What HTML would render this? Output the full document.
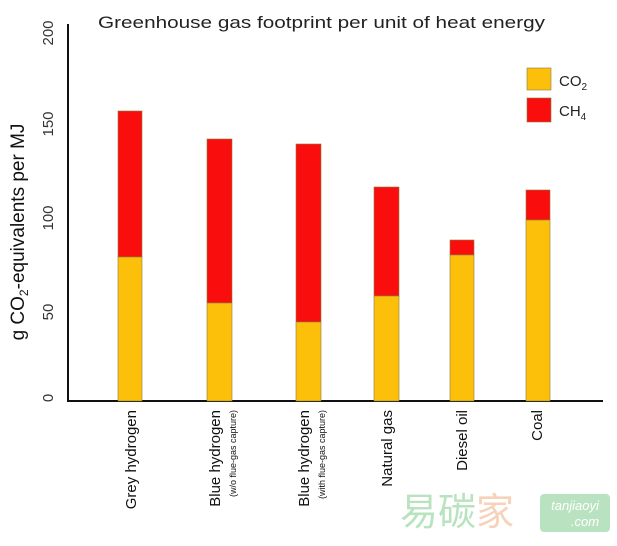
<!DOCTYPE html>
<html><head><style>body{margin:0;background:#fff}</style></head><body>
<svg width="617" height="541" viewBox="0 0 617 541" xmlns="http://www.w3.org/2000/svg" font-family="Liberation Sans, sans-serif">
<rect width="617" height="541" fill="#fff"/>
<text x="98" y="28" font-size="17" fill="#222" textLength="447" lengthAdjust="spacingAndGlyphs">Greenhouse gas footprint per unit of heat energy</text>
<line x1="68" y1="24" x2="68" y2="401" stroke="#111" stroke-width="2"/>
<line x1="67" y1="401" x2="603" y2="401" stroke="#111" stroke-width="2"/>
<g font-size="15" fill="#333" text-anchor="middle">
<text transform="translate(53,33) rotate(-90)">200</text>
<text transform="translate(53,124) rotate(-90)">150</text>
<text transform="translate(53,218) rotate(-90)">100</text>
<text transform="translate(53,312) rotate(-90)">50</text>
<text transform="translate(53,398) rotate(-90)">0</text>
</g>
<text transform="translate(24,232) rotate(-90)" font-size="19" text-anchor="middle" fill="#111">g CO<tspan font-size="12" dy="4">2</tspan><tspan dy="-4">-equivalents per MJ</tspan></text>
<g stroke="#8a7a40" stroke-width="0.6">
<rect x="118" y="111" width="24" height="146" fill="#f90d0d"/><rect x="118" y="257" width="24" height="144" fill="#fcc00a"/>
<rect x="207" y="139" width="25" height="164" fill="#f90d0d"/><rect x="207" y="303" width="25" height="98" fill="#fcc00a"/>
<rect x="296" y="144" width="25" height="178" fill="#f90d0d"/><rect x="296" y="322" width="25" height="79" fill="#fcc00a"/>
<rect x="374" y="187" width="25" height="109" fill="#f90d0d"/><rect x="374" y="296" width="25" height="105" fill="#fcc00a"/>
<rect x="450" y="240" width="24" height="15" fill="#f90d0d"/><rect x="450" y="255" width="24" height="146" fill="#fcc00a"/>
<rect x="526" y="190" width="24" height="30" fill="#f90d0d"/><rect x="526" y="220" width="24" height="181" fill="#fcc00a"/>
<rect x="527" y="68" width="24" height="22" fill="#fcc00a"/><rect x="527" y="98" width="24" height="24" fill="#f90d0d"/>
</g>
<text x="559" y="86" font-size="15" fill="#222">CO<tspan font-size="10" dy="4">2</tspan></text>
<text x="559" y="116" font-size="15" fill="#222">CH<tspan font-size="10" dy="4">4</tspan></text>
<g font-size="15" fill="#111" text-anchor="end">
<text transform="translate(136,410) rotate(-90)">Grey hydrogen</text>
<text transform="translate(220,410) rotate(-90)">Blue hydrogen</text>
<text transform="translate(236,410) rotate(-90)" font-size="9">(w/o flue-gas capture)</text>
<text transform="translate(309,410) rotate(-90)">Blue hydrogen</text>
<text transform="translate(325,410) rotate(-90)" font-size="9">(with flue-gas capture)</text>
<text transform="translate(392,410) rotate(-90)">Natural gas</text>
<text transform="translate(467,410) rotate(-90)">Diesel oil</text>
<text transform="translate(542,410) rotate(-90)">Coal</text>
</g>
<text x="400" y="525" font-family="Noto Sans CJK SC, sans-serif" font-size="38" fill="#a8dcb0" opacity="0.8">易碳<tspan fill="#f6c8aa">家</tspan></text>
<rect x="540" y="494" width="70" height="38" rx="4" fill="#a8dcb0" opacity="0.8"/>
<text x="575" y="510" font-size="13" fill="#fff" text-anchor="middle" font-style="italic">tanjiaoyi</text>
<text x="585" y="526" font-size="13" fill="#fff" text-anchor="middle" font-style="italic">.com</text>
</svg>
</body></html>
